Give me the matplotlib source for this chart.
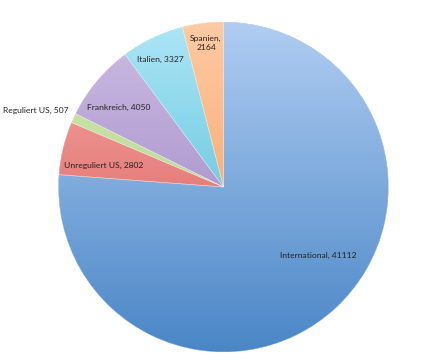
import numpy as np
import matplotlib
matplotlib.use("Agg")
import matplotlib.pyplot as plt
from matplotlib.patches import Wedge
from matplotlib.colors import to_rgb

categories = ["International", "Unreguliert US", "Reguliert US", "Frankreich", "Italien", "Spanien"]
values = [41112, 2802, 507, 4050, 3327, 2164]
labels = ["International, 41112", "Unreguliert US, 2802", "Reguliert US, 507",
          "Frankreich, 4050", "Italien, 3327", "Spanien,\n2164"]

# gradient colours (top/light, bottom/dark)
light = ["#b0cdf2", "#f6aeac", "#d3eab5", "#cdbde4", "#ade6f6", "#fecaa3"]
dark = ["#4a86c6", "#d64f4b", "#a9cc7a", "#9479bd", "#3db3cf", "#f6974f"]

# label positions in pixel coords (x, y from top)
label_pos = [(318, 255), (104, 165), (36, 110), (119, 107), (160, 59), (206, 43)]

W, H = 435, 362
fig = plt.figure(figsize=(W / 100, H / 100), dpi=100)
ax = fig.add_axes([0, 0, 1, 1])

cx, cy, R = 223.5, H - 187, 165
wedges, _ = ax.pie(values, startangle=90, counterclock=False, center=(cx, cy), radius=R,
                   colors=dark, wedgeprops=dict(linewidth=0), frame=True)
ax.set_xlim(0, W)
ax.set_ylim(0, H)
ax.set_aspect("equal")
ax.axis("off")

grad = np.linspace(0, 1, 256)[:, None]
for w, lc, dc in zip(wedges, light, dark):
    l = np.array(to_rgb(lc)); d = np.array(to_rgb(dc))
    img = (l[None, None, :] * (1 - grad[..., None]) + d[None, None, :] * grad[..., None])
    img = np.repeat(img, 2, axis=1)
    im = ax.imshow(img, extent=(cx - R, cx + R, cy - R, cy + R), origin="upper",
                   aspect="auto", zorder=w.get_zorder() + 0.5, interpolation="bilinear")
    im.set_clip_path(w)
    ax.add_patch(Wedge(w.center, w.r, w.theta1, w.theta2, facecolor="none",
                       edgecolor="white", linewidth=0.4, alpha=0.5,
                       zorder=w.get_zorder() + 1))

for txt, (x, y) in zip(labels, label_pos):
    ax.text(x, H - y, txt, ha="center", va="center", fontsize=6.1, family="Lato",
            color="#222222", zorder=10, linespacing=1.35)

fig.savefig("out.png", dpi=100, facecolor="white")
